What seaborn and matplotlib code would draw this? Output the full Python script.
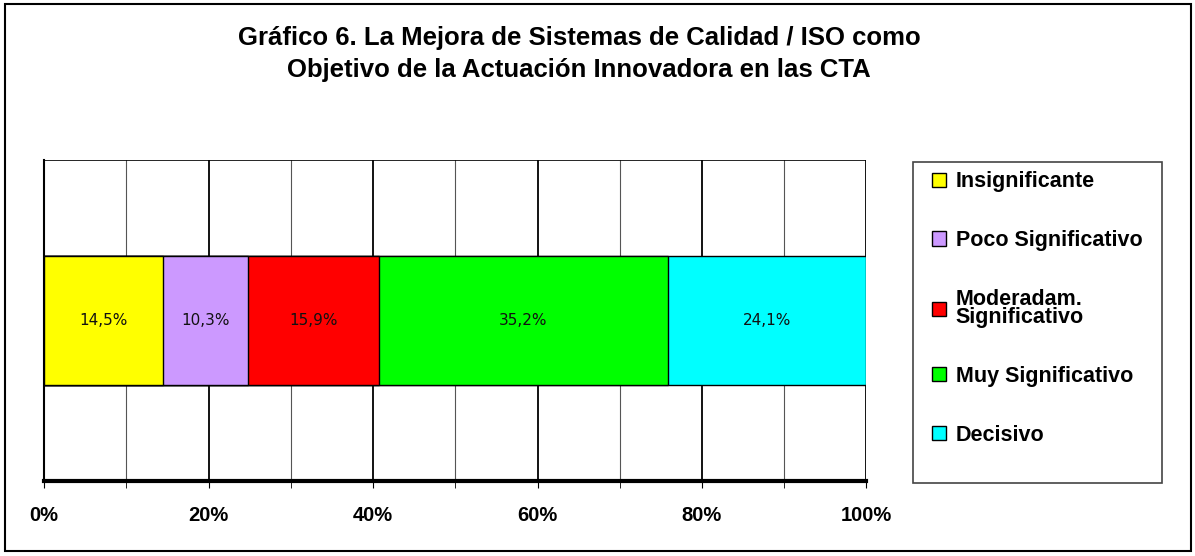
import numpy as np
import pandas as pd
import matplotlib.pyplot as plt
import seaborn as sns
from matplotlib.patches import Patch, Rectangle
from matplotlib.ticker import MultipleLocator, FuncFormatter

sns.set_style("white")
plt.rcParams['font.family'] = ['Liberation Sans', 'DejaVu Sans']
plt.rcParams['text.color'] = 'black'
plt.rcParams['xtick.color'] = 'black'

# ===== Data =====
categories = ["Insignificante", "Poco Significativo", "Moderadam.\nSignificativo",
              "Muy Significativo", "Decisivo"]
values = [14.5, 10.3, 15.9, 35.2, 24.1]
colors = ["#ffff00", "#cc99ff", "#ff0000", "#00ff00", "#00ffff"]
title = ("Gráfico 6. La Mejora de Sistemas de Calidad / ISO como\n"
         "Objetivo de la Actuación Innovadora en las CTA")

fig = plt.figure(figsize=(11.95, 5.56), dpi=100)
ax = fig.add_axes([0.037, 0.135, 0.688, 0.577])

# stacked bar: draw cumulative totals from the largest down
cum = np.cumsum(values)
df = pd.DataFrame({"grupo": ["CTA"] * len(values), "acum": cum})
for i in reversed(range(len(values))):
    sns.barplot(data=df.iloc[[i]], x="acum", y="grupo", orient="h",
                color=colors[i], saturation=1, width=0.4,
                edgecolor="black", linewidth=1, ax=ax, zorder=3)

for c, v in zip(cum, values):
    ax.text(c - v / 2, 0, f"{v:.1f}%".replace(".", ","), ha="center", va="center",
            fontsize=11, color="#111111", family=["DejaVu Sans"], zorder=4)

ax.set_xlim(0, 100)
ax.set_ylim(0.5, -0.5)
ax.set_xlabel("")
ax.set_ylabel("")
ax.set_yticks([])
ax.xaxis.set_major_locator(MultipleLocator(20))
ax.xaxis.set_minor_locator(MultipleLocator(10))
ax.xaxis.set_major_formatter(FuncFormatter(lambda x, p: f"{x:.0f}%"))
ax.grid(axis="x", which="major", color="black", linewidth=1.3, zorder=0)
ax.grid(axis="x", which="minor", color="#555555", linewidth=0.8, zorder=0)
ax.set_axisbelow(True)
ax.tick_params(axis="x", which="both", direction="out", length=5, color="black",
               bottom=True, pad=13)
for lab in ax.get_xticklabels():
    lab.set_fontweight("bold")
    lab.set_fontsize(14.5)
for s in ["top", "right"]:
    ax.spines[s].set_visible(False)
ax.spines["left"].set_color("black")
ax.spines["left"].set_linewidth(1.5)
ax.spines["bottom"].set_color("black")
ax.spines["bottom"].set_linewidth(3)
ax.axhline(-0.5, color="black", linewidth=1.2, zorder=1)

fig.text(0.4845, 0.903, title, ha="center", va="center", fontsize=18.5,
         fontweight="bold", linespacing=1.45)

handles = [Patch(facecolor=c, edgecolor="black", linewidth=1) for c in colors]
leg = fig.legend(handles, categories, loc="upper left",
                 bbox_to_anchor=(0.78, 0.692), frameon=False,
                 prop={"weight": "bold", "size": 15.5},
                 handlelength=0.65, handleheight=0.65, handletextpad=0.45,
                 labelspacing=1.75, borderpad=0, borderaxespad=0)
for t in leg.get_texts():
    t.set_linespacing(0.85)

# legend box and outer frame of the chart
fig.patches.append(Rectangle((0.764, 0.131), 0.208, 0.578, transform=fig.transFigure,
                             fill=False, edgecolor="#444444", linewidth=1.2))
fig.patches.append(Rectangle((0.004, 0.009), 0.993, 0.984, transform=fig.transFigure,
                             fill=False, edgecolor="black", linewidth=1.5))

fig.savefig("out.png", dpi=100)
